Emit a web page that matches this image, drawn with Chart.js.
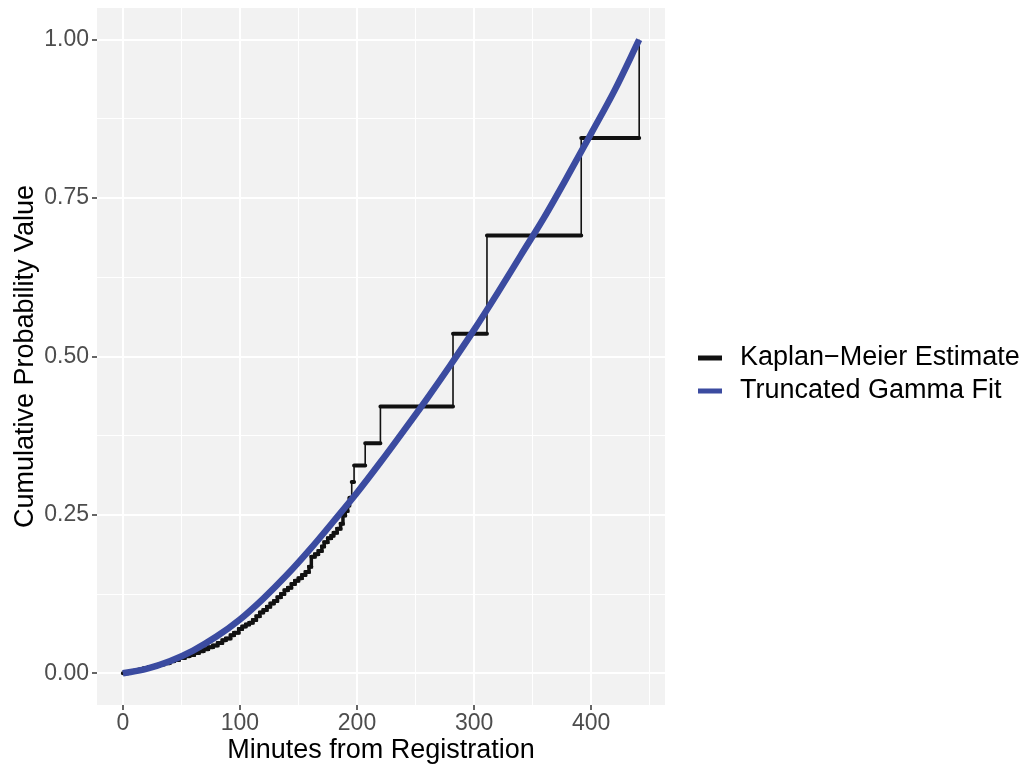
<!DOCTYPE html>
<html>
<head>
<meta charset="utf-8">
<script src="https://cdn.jsdelivr.net/npm/chart.js@4.4.1/dist/chart.umd.min.js"></script>
<style>
html,body{margin:0;padding:0;background:#ffffff;}
#c{display:block;}
</style>
</head>
<body>
<canvas id="c" width="1024" height="769"></canvas>
<script>
// ---- data ----
const kmTime = [0, 5, 9, 14, 18, 22, 27, 31, 35, 40, 44, 48, 53, 57, 61, 65, 69, 73, 77, 81,
  85, 88, 92, 95, 99, 102, 105, 108, 111, 114, 117, 120, 123, 126, 129, 132, 135, 138, 141, 144,
  147, 150, 153, 156, 159, 161, 164, 167, 170, 172, 175, 178, 180, 183, 186, 188, 190, 192, 193.5, 195.5,
  197.5, 207, 220, 282, 311, 391.5, 441];
const kmValue = [0, 0.002, 0.004, 0.006, 0.008, 0.010, 0.012, 0.014, 0.016, 0.019, 0.021, 0.024, 0.027, 0.029, 0.032, 0.035, 0.038, 0.041, 0.044, 0.048,
  0.052, 0.055, 0.060, 0.064, 0.070, 0.074, 0.077, 0.080, 0.084, 0.090, 0.096, 0.100, 0.105, 0.110, 0.114, 0.120, 0.125, 0.131, 0.135, 0.141,
  0.146, 0.150, 0.155, 0.160, 0.168, 0.184, 0.188, 0.193, 0.200, 0.207, 0.213, 0.217, 0.222, 0.228, 0.236, 0.249, 0.256, 0.265, 0.277, 0.302,
  0.328, 0.363, 0.421, 0.536, 0.691, 0.845, 1.0];
const gammaTime = [0, 20, 40, 60, 80, 100, 120, 140, 160, 180, 200, 220, 240, 260, 280, 300, 320, 340, 360, 380, 400, 420, 441];
const gammaValue = [0, 0.007, 0.019, 0.036, 0.058, 0.085, 0.118, 0.155, 0.196, 0.240, 0.285, 0.333, 0.383, 0.434, 0.487, 0.542, 0.600, 0.660, 0.720, 0.785, 0.852, 0.920, 1.0];
const seriesNames = ['Kaplan\u2212Meier Estimate', 'Truncated Gamma Fit'];
const xTickValues = [0, 100, 200, 300, 400];
const xMinorValues = [50, 150, 250, 350, 450];
const yTickValues = [0, 0.25, 0.5, 0.75, 1];
const yMinorValues = [0.125, 0.375, 0.625, 0.875];
const xTitle = 'Minutes from Registration';
const yTitle = 'Cumulative Probability Value';

// ---- styling ----
const FONT = "'Liberation Sans', Arial, Helvetica, sans-serif";
const BLUE = '#3B4BA0';
const BLACK = '#111111';

const kmPoints = kmTime.map((t, i) => ({x: t, y: kmValue[i]}));
const kmFlats = [];
for (let i = 0; i < kmTime.length - 1; i++) {
  kmFlats.push({x: kmTime[i], y: kmValue[i]});
  kmFlats.push({x: kmTime[i + 1], y: kmValue[i]});
  kmFlats.push({x: kmTime[i + 1], y: null});
}
const gammaPoints = gammaTime.map((t, i) => ({x: t, y: gammaValue[i]}));

const xGrid = xTickValues.concat(xMinorValues).sort((a, b) => a - b);
const yGrid = yTickValues.concat(yMinorValues).sort((a, b) => a - b);

const panelBackground = {
  id: 'panelBackground',
  beforeDraw(chart) {
    const {ctx, chartArea: a} = chart;
    ctx.save();
    ctx.fillStyle = '#F2F2F2';
    ctx.fillRect(a.left, a.top, a.right - a.left, a.bottom - a.top);
    ctx.restore();
  }
};

// legend drawn at the right of the panel, ggplot style
const legendOrder = [1, 0];
const sideLegend = {
  id: 'sideLegend',
  afterDraw(chart) {
    const {ctx, chartArea: a} = chart;
    const rowH = 33;
    const firstY = chart.height / 2 - 10 - rowH / 2;
    const keyX = a.right + 33, keyW = 24, textX = keyX + keyW + 18;
    ctx.save();
    legendOrder.forEach((di, k) => {
      const ds = chart.data.datasets[di];
      const y = firstY + k * rowH;
      ctx.fillStyle = ds.borderColor;
      ctx.fillRect(keyX, y - 2.5, keyW, 5);
      ctx.fillStyle = '#000000';
      ctx.font = '27px ' + FONT;
      ctx.textBaseline = 'middle';
      ctx.textAlign = 'left';
      ctx.fillText(ds.label, textX, y);
    });
    ctx.restore();
  }
};

new Chart(document.getElementById('c'), {
  type: 'line',
  data: {
    datasets: [
      {label: seriesNames[1], data: gammaPoints, borderColor: BLUE, backgroundColor: BLUE,
       borderWidth: 6.5, pointRadius: 0, cubicInterpolationMode: 'monotone', order: 0},
      {label: seriesNames[0], data: kmPoints, borderColor: BLACK, backgroundColor: BLACK,
       borderWidth: 1.6, pointRadius: 0, stepped: 'before', order: 2,
       segment: {borderWidth: c => (c.p1.parsed.y - c.p0.parsed.y < 0.02) ? 3.5 : 1.6}},
      {label: 'km-flats', data: kmFlats, borderColor: BLACK, backgroundColor: BLACK,
       borderWidth: 4, borderCapStyle: 'round', pointRadius: 0, spanGaps: false, order: 1}
    ]
  },
  options: {
    responsive: false,
    animation: false,
    devicePixelRatio: 1,
    layout: {padding: {left: 0, top: 8, right: 359, bottom: 28}},
    plugins: {
      tooltip: {enabled: false},
      legend: {display: false}
    },
    scales: {
      x: {
        type: 'linear',
        position: 'bottom',
        min: -22.05,
        max: 463.05,
        afterBuildTicks: s => { s.ticks = xGrid.map(v => ({value: v})); },
        afterFit: s => { s.height = 36; s.paddingLeft = 0; s.paddingRight = 0; },
        ticks: {
          autoSkip: false, maxRotation: 0, padding: 0, color: '#4D4D4D',
          font: {family: FONT, size: 23},
          callback: v => xTickValues.includes(v) ? String(v) : ''
        },
        grid: {
          color: '#FFFFFF',
          lineWidth: c => (c.tick && xTickValues.includes(c.tick.value)) ? 2 : 1,
          tickLength: 5,
          tickWidth: 1.5,
          tickColor: c => (c.tick && xTickValues.includes(c.tick.value)) ? '#333333' : 'rgba(0,0,0,0)'
        },
        border: {display: false},
        title: {display: true, text: xTitle, color: '#000000', font: {family: FONT, size: 27}, padding: {top: 0, bottom: -26}}
      },
      y: {
        type: 'linear',
        position: 'left',
        min: -0.05,
        max: 1.05,
        afterBuildTicks: s => { s.ticks = yGrid.map(v => ({value: v})); },
        afterFit: s => { s.width = 97; s.paddingTop = 0; s.paddingBottom = 0; },
        ticks: {
          autoSkip: false, padding: 3, color: '#4D4D4D',
          font: {family: FONT, size: 23},
          callback: v => yTickValues.includes(v) ? v.toFixed(2) : ''
        },
        grid: {
          color: '#FFFFFF',
          lineWidth: c => (c.tick && yTickValues.includes(c.tick.value)) ? 2 : 1,
          tickLength: 5,
          tickWidth: 1.5,
          tickColor: c => (c.tick && yTickValues.includes(c.tick.value)) ? '#333333' : 'rgba(0,0,0,0)'
        },
        border: {display: false},
        title: {display: true, text: yTitle, color: '#000000', font: {family: FONT, size: 27}, padding: {top: 9, bottom: 0}}
      }
    }
  },
  plugins: [panelBackground, sideLegend]
});
</script>
</body>
</html>
